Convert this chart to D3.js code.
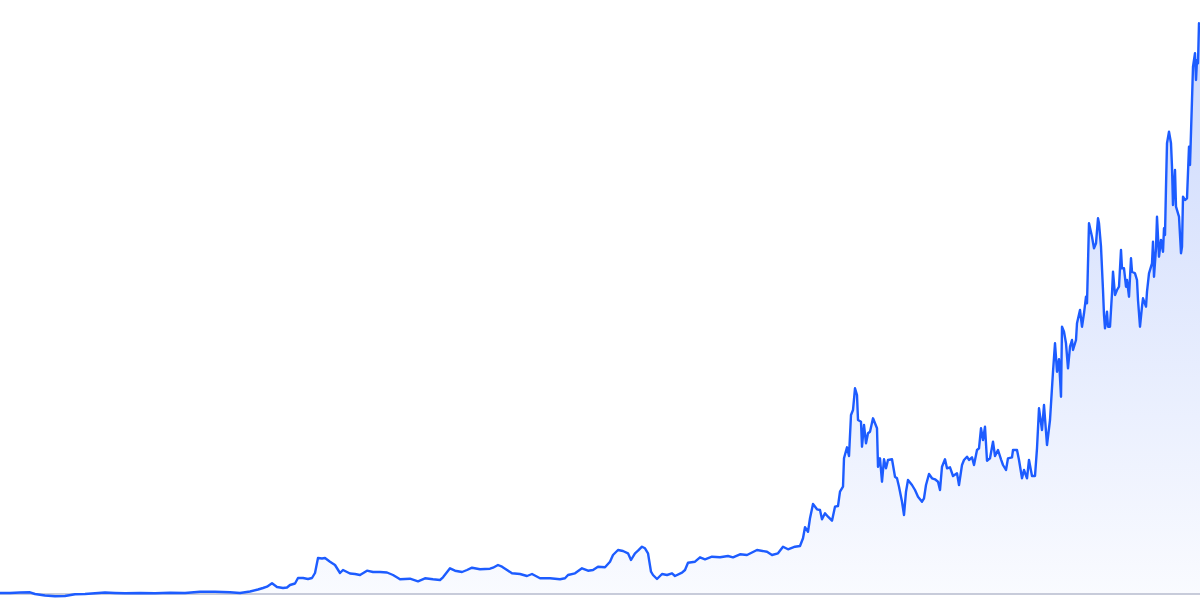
<!DOCTYPE html>
<html lang="en">
<head>
  <meta charset="UTF-8">
  <title>Area chart</title>
  <script src="https://d3js.org/d3.v7.min.js"></script>
  <style>
    html, body { margin: 0; padding: 0; background: #fff; }
    svg { display: block; }
    .line { fill: none; stroke: #1d5cff; stroke-width: 2.4px; stroke-linejoin: round; }
    .baseline { stroke: #b6bbce; stroke-width: 1.5px; }
  </style>
</head>
<body>
  <svg id="chart"></svg>

  <script>
    const width = 1200;
    const height = 603;

    // time index of each sample
    const days = [
      0, 10, 20, 30, 35, 45, 55, 65, 75, 85, 95, 105, 115, 125, 140, 155, 170, 185, 200, 215,
      230, 240, 250, 258, 263, 267, 272, 277, 283, 287, 290, 295, 298, 303, 308, 312, 315, 318, 322, 325,
      330, 335, 340, 343, 350, 355, 360, 367, 373, 380, 387, 393, 398,
      400, 410, 418, 425, 433, 440, 443, 450, 455, 462, 467, 472, 480, 490, 493, 498, 502, 507, 512,
      520, 527, 532, 540, 550, 560, 565, 568, 575, 582, 588, 593, 598, 605, 610, 613, 618, 623, 628,
      631, 635, 638, 642, 645, 648, 651, 653, 657, 662, 667, 672, 675, 682, 685, 688, 695, 700, 705,
      712, 720, 728, 733, 740, 747, 757, 767, 772, 778, 783, 788, 795, 800,
      803, 805, 808, 810, 813, 817, 820, 822, 825, 828, 832, 835, 838, 840, 843, 844, 847, 849, 851, 853,
      855, 857, 858, 861, 862, 864, 866, 868, 870, 873, 875, 877, 878, 880, 882, 884, 886, 888, 892, 895,
      897, 899, 902, 904, 906, 908, 912, 915, 918, 922, 924, 926, 929, 932, 935, 938, 940, 942, 945, 947,
      950, 953, 957, 959, 962, 964, 967, 969, 972, 974, 977, 979, 981, 983, 985, 987, 990, 993, 995, 998,
      1001, 1003, 1006, 1008, 1012, 1013, 1017, 1019, 1022, 1024, 1027, 1029, 1032, 1035,
      1037, 1039, 1042, 1044, 1047, 1050, 1053, 1055, 1057, 1059, 1061, 1062, 1064, 1066, 1068, 1070,
      1072, 1073, 1076, 1077, 1080, 1082, 1084, 1086, 1087, 1089, 1092, 1094, 1096, 1098, 1099, 1101,
      1103, 1104, 1105, 1107, 1108, 1110, 1112, 1113, 1115, 1117, 1119, 1121, 1122, 1124, 1126, 1127,
      1129, 1131, 1132, 1135, 1137, 1138, 1140, 1142, 1143, 1146, 1147, 1149, 1152, 1153, 1154, 1156,
      1157, 1159, 1161, 1163, 1164,
      1165, 1166, 1167, 1169, 1171, 1172, 1173, 1175, 1176, 1178, 1179, 1181, 1182, 1183, 1185, 1187,
      1189, 1190, 1192, 1193, 1195, 1196, 1197, 1198, 1199, 1200
    ];

    // index value of each sample
    const values = [
      1, 1, 1.5, 1.7, 0, -1.5, -2.3, -2, -0.3, 0, 0.7, 1.5, 1, 0.7, 1, 0.7, 1.3, 1, 2.3, 2.3,
      1.7, 1, 2.5, 4.5, 6, 7.3, 10.7, 7, 6, 6.5, 9, 10.5, 16, 16, 15, 16, 21, 36, 35.5, 36,
      32.3, 29, 21, 24, 20.5, 20, 19, 23.3, 22, 22, 21.5, 19, 16,
      14.7, 15.3, 12.7, 15.7, 14.7, 14, 16.7, 25.7, 23.3, 22, 24, 26.3, 24.7, 25.3, 26.3, 29, 27.3, 24, 20.7,
      20, 18, 20, 15.7, 15.7, 14.7, 15.7, 19, 20.7, 25.7, 23.3, 24, 27.3, 26.7, 32.3, 39, 44, 43, 40.7,
      34, 40.7, 43.3, 47.3, 45.7, 40.7, 22.3, 19, 15, 20, 19, 20.7, 18, 21.3, 24, 31.3, 32.3, 36.7, 34.7,
      37.3, 36.7, 38, 36.7, 39.7, 39, 44, 42.3, 39, 40.7, 47.3, 44.7, 47.3, 48,
      55.7, 66.7, 62.3, 75.7, 90, 84.7, 84, 74.7, 80.7, 77.3, 73.3, 87.3, 88, 102.3, 107.3, 135.7, 146.7, 138, 179, 184,
      205.7, 199, 174, 172.3, 147.3, 169, 150.7, 160.7, 162.3, 175.7, 170.7, 165.7, 127.3, 135.7, 112.3, 134.7, 125.7, 134, 134.7, 117.3,
      115.7, 107.3, 92.3, 79, 102.3, 114, 109, 104, 97.3, 92.3, 95.7, 109, 120, 115.7, 114.7, 112.3, 104, 127.3, 134.7, 125.7,
      126.7, 118, 120.7, 109, 129, 134, 137.3, 134, 136.7, 129, 144, 145.7, 165.7, 154, 167.3, 133.3, 135.7, 152.3, 138, 144,
      134.7, 129, 124, 135.7, 136.7, 144, 144, 134, 115.7, 124, 115.7, 134, 118, 118,
      145.7, 185.7, 164, 189, 149, 174, 222.3, 250.7, 222.3, 234.7, 197.3, 267.3, 262.3, 250.7, 225.7, 247.3,
      254, 244, 254, 270.7, 284, 267.3, 280.7, 297.3, 290.7, 370.7, 357.3, 345.7, 350.7, 375.7, 370.7, 347.3,
      304, 279, 265.7, 282.3, 267.3, 267.3, 300.7, 322.3, 299, 304, 307.3, 344, 325.7, 325.7, 307.3, 314,
      297.3, 335.7, 322.3, 320.7, 314, 294, 267.3, 287.3, 295.7, 287.3, 302.3, 320.7, 330.7, 352.3, 317.3, 345.7,
      377.3, 337.3, 354, 342.3, 365.7,
      359, 407.3, 450.7, 462.3, 450.7, 427.3, 389, 424, 387.3, 380.7, 377.3, 340.7, 347.3, 397.3, 394, 395.7,
      447.3, 429, 494, 527.3, 540.7, 514, 534, 530.7, 570.7, 569
    ];

    const data = days.map((d, i) => ({ t: d, v: values[i] }));

    const svg = d3.select("#chart")
        .attr("width", width)
        .attr("height", height);

    const x = d3.scaleLinear()
        .domain(d3.extent(days))
        .range([0, width]);

    const y = d3.scaleLinear()
        .domain([0, 594])
        .range([594, 0]);

    // soft blue fill that fades out toward the baseline
    const grad = svg.append("defs").append("linearGradient")
        .attr("id", "fade")
        .attr("gradientUnits", "userSpaceOnUse")
        .attr("x1", 0).attr("x2", 0)
        .attr("y1", y(570)).attr("y2", y(0));
    grad.append("stop").attr("offset", "0%")
        .attr("stop-color", "#3b6cf5").attr("stop-opacity", 0.26);
    grad.append("stop").attr("offset", "100%")
        .attr("stop-color", "#3b6cf5").attr("stop-opacity", 0.03);

    const area = d3.area()
        .x(d => x(d.t))
        .y0(y(0))
        .y1(d => y(d.v));

    const line = d3.line()
        .x(d => x(d.t))
        .y(d => y(d.v));

    svg.append("path")
        .datum(data)
        .attr("fill", "url(#fade)")
        .attr("d", area);

    svg.append("line")
        .attr("class", "baseline")
        .attr("x1", 0).attr("x2", width)
        .attr("y1", y(0)).attr("y2", y(0));

    svg.append("path")
        .datum(data)
        .attr("class", "line")
        .attr("d", line);
  </script>
</body>
</html>
